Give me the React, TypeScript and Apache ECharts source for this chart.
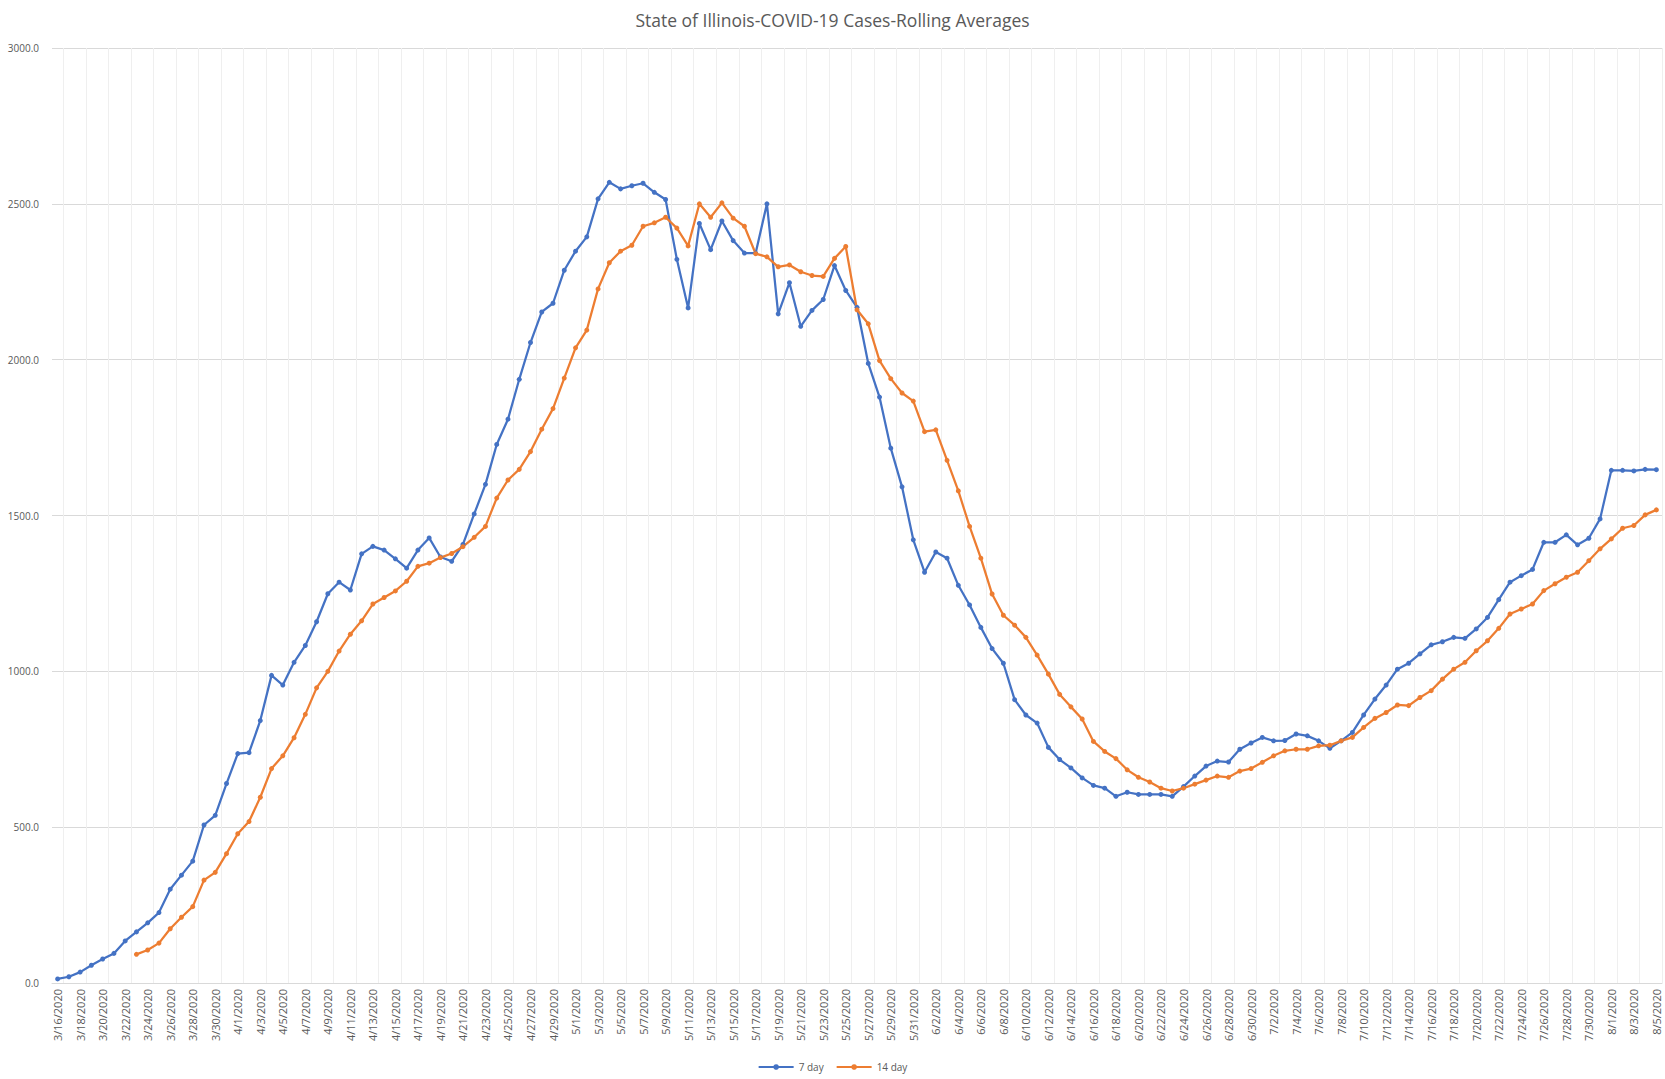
import React, { useEffect, useRef } from "react";
import * as echarts from "echarts";

const TITLE = "State of Illinois-COVID-19 Cases-Rolling Averages";

// month, first day, last day
const MONTH_SPANS: number[][] = [
  [3, 16, 31],
  [4, 1, 30],
  [5, 1, 31],
  [6, 1, 30],
  [7, 1, 31],
  [8, 1, 5],
];

const dates: string[] = [];
MONTH_SPANS.forEach(([m, a, b]) => {
  for (let d = a; d <= b; d++) dates.push(`${m}/${d}/2020`);
});

const SERIES_NAMES = ["7 day", "14 day"];

const sevenDay: number[] = [
  13, 20, 35, 57, 77, 95, 135, 164, 193, 226,
  301, 346, 391, 507, 538, 640, 736, 739, 842, 987,
  956, 1029, 1083, 1159, 1249, 1286, 1261, 1377, 1401, 1389,
  1361, 1331, 1389, 1428, 1367, 1353, 1407, 1505, 1600, 1728,
  1809, 1937, 2055, 2153, 2181, 2287, 2348, 2394, 2516, 2569,
  2548, 2558, 2566, 2537, 2514, 2322, 2166, 2437, 2353, 2445,
  2382, 2342, 2342, 2500, 2147, 2247, 2107, 2158, 2193, 2302,
  2222, 2168, 1988, 1880, 1716, 1592, 1422, 1318, 1383, 1363,
  1276, 1213, 1141, 1073, 1026, 909, 860, 834, 756, 717,
  690, 658, 634, 625, 599, 612, 605, 605, 605, 599,
  630, 664, 696, 712, 709, 750, 770, 788, 777, 778,
  799, 793, 777, 753, 777, 804, 860, 911, 956, 1007,
  1026, 1056, 1085, 1095, 1109, 1106, 1136, 1173, 1230, 1286,
  1307, 1327, 1414, 1414, 1438, 1406, 1427, 1489, 1645, 1645,
  1643, 1648, 1647,
];

const fourteenDay: (number | null)[] = [
  null, null, null, null, null, null, null, 92, 106, 128,
  174, 211, 245, 330, 355, 415, 479, 518, 596, 688,
  729, 787, 862, 947, 1000, 1065, 1119, 1162, 1216, 1237,
  1258, 1289, 1337, 1347, 1365, 1378, 1400, 1430, 1465, 1556,
  1614, 1648, 1705, 1777, 1843, 1941, 2038, 2095, 2227, 2311,
  2348, 2367, 2428, 2439, 2457, 2422, 2365, 2500, 2457, 2503,
  2454, 2428, 2340, 2330, 2298, 2304, 2282, 2270, 2267, 2325,
  2363, 2160, 2115, 1997, 1939, 1893, 1867, 1769, 1775, 1677,
  1579, 1465, 1363, 1248, 1180, 1148, 1109, 1052, 991, 926,
  886, 847, 775, 743, 720, 684, 660, 645, 625, 616,
  625, 638, 651, 664, 660, 680, 688, 708, 729, 745,
  750, 750, 761, 763, 777, 788, 820, 849, 868, 892,
  890, 916, 938, 975, 1007, 1029, 1066, 1098, 1138, 1184,
  1200, 1216, 1259, 1281, 1302, 1318, 1355, 1393, 1425, 1459,
  1468, 1502, 1518,
];

const BLUE = "#4472C4";
const ORANGE = "#ED7D31";
const TEXT = "#595959";
const FONT = "'Open Sans', 'Liberation Sans', sans-serif";

export default function App() {
  const ref = useRef<HTMLDivElement>(null);

  useEffect(() => {
    if (!ref.current) return;
    const chart = echarts.init(ref.current, undefined, { renderer: "svg" });
    chart.setOption({
      animation: false,
      backgroundColor: "#ffffff",
      textStyle: { fontFamily: FONT },
      title: {
        text: TITLE,
        left: "center",
        top: 6,
        textStyle: { fontSize: 17.5, fontWeight: "normal", color: TEXT, fontFamily: FONT },
      },
      legend: {
        bottom: 2,
        left: "center",
        itemWidth: 35,
        itemHeight: 7,
        itemGap: 12,
        textStyle: { fontSize: 10, color: TEXT, fontFamily: FONT },
        data: SERIES_NAMES,
      },
      grid: { left: 52, right: 3, top: 48, bottom: 96, containLabel: false },
      xAxis: {
        type: "category",
        data: dates,
        boundaryGap: true,
        axisLine: { show: true, lineStyle: { color: "#d9d9d9" } },
        axisTick: { show: false },
        axisLabel: {
          interval: 1,
          rotate: 90,
          fontSize: 11,
          color: TEXT,
          margin: 6,
          fontFamily: FONT,
        },
        splitLine: {
          show: true,
          interval: (i: number) => i % 2 === 1,
          lineStyle: { color: "#efefef", width: 1 },
        },
      },
      yAxis: {
        type: "value",
        min: 0,
        max: 3000,
        interval: 500,
        axisLine: { show: false },
        axisTick: { show: false },
        axisLabel: {
          formatter: (v: number) => v.toFixed(1),
          fontSize: 10,
          color: TEXT,
          margin: 13,
          fontFamily: FONT,
        },
        splitLine: { lineStyle: { color: "#d9d9d9", width: 1 } },
      },
      series: [
        {
          name: SERIES_NAMES[0],
          type: "line",
          data: sevenDay,
          symbol: "circle",
          symbolSize: 5,
          itemStyle: { color: BLUE },
          lineStyle: { color: BLUE, width: 2.25 },
        },
        {
          name: SERIES_NAMES[1],
          type: "line",
          data: fourteenDay,
          symbol: "circle",
          symbolSize: 5,
          connectNulls: false,
          itemStyle: { color: ORANGE },
          lineStyle: { color: ORANGE, width: 2.25 },
        },
      ],
    });
    return () => chart.dispose();
  }, []);

  return (
    <div
      ref={ref}
      style={{ position: "absolute", left: 0, top: 0, width: 1665, height: 1079, background: "#fff" }}
    />
  );
}
